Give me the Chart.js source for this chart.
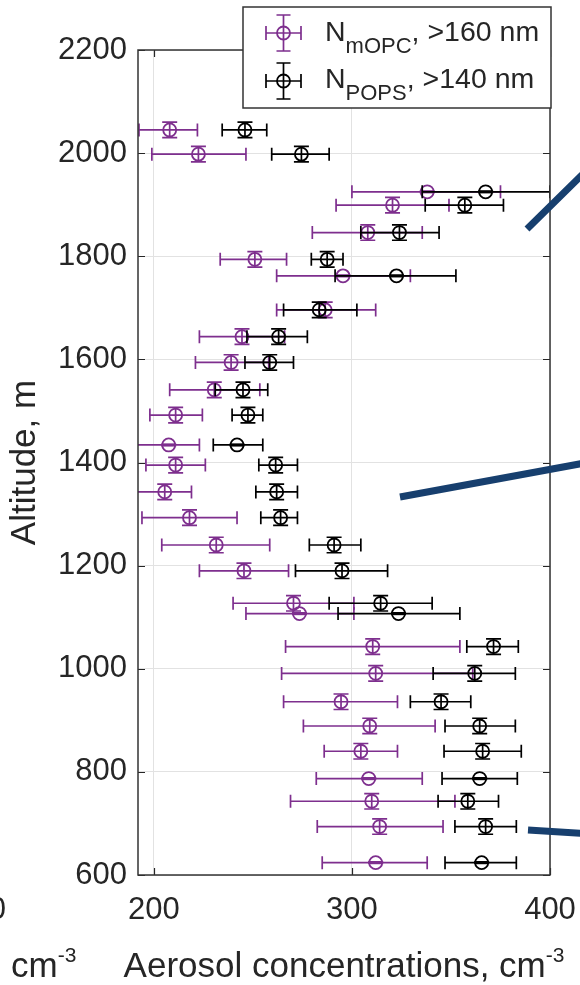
<!DOCTYPE html>
<html>
<head>
<meta charset="utf-8">
<script src="https://cdn.jsdelivr.net/npm/chart.js@4.4.1/dist/chart.umd.min.js"></script>
<style>
html,body{margin:0;padding:0;background:#ffffff;}
#wrap{width:580px;height:985px;position:relative;overflow:hidden;}
canvas{display:block;}
</style>
</head>
<body>
<div id="wrap"><canvas id="c" width="580" height="985"></canvas></div>
<script>
// ---- data ----
const altitudes   = [2045,1998,1925,1899,1846,1794,1762,1696,1644,1594,1541,1492,1434,1395,1343,1293,1240,1190,1127,1107,1043,991,936,889,840,787,743,694,624];
const altitudeErr = [15,15,0,15,15,15,0,15,15,15,15,15,0,15,15,15,15,15,15,0,15,15,15,15,15,0,15,15,0];

const opcValues = [208,222.5,338,320.5,308,251,295.5,286.5,244.5,239,230.5,211,207.5,211,205.5,218,231.5,245.5,270.5,273.5,310.5,312,294.5,309,304.5,308.5,310,314,312];
const opcLow    = [192.5,199,300,292,280,233.5,262,262,223,221,208,198,189,196,191,194,204,223,240,246.5,266.5,264.5,265.5,275.5,286,282,269,282.5,285];
const opcHigh   = [222,246.5,375,349,335.5,267,329.5,312,266,258,253.5,224.5,223,226,219,242,258.5,268,301,301,354.5,361,323,342,323,335.5,352,346,338];

const popsValues = [246,274.5,367.5,357,324,287.5,322.5,283.5,263,258.5,245,247.5,242,261.5,262,264,291,295,314.5,323.5,371.5,362,345,364.5,366,364.5,358.5,367.5,365.5];
const popsLow    = [234.5,259.5,335.5,337,304.5,279.5,291.5,265.5,247,246,231,239.5,230,253,251.5,254,278.5,271.5,288.5,293,358,341,329.5,347,346.5,345.5,343.5,352,347];
const popsHigh   = [257,288.5,400,376.5,344,295.5,352.5,302.5,277.5,270.5,257.5,255,255,272.5,272.5,272.5,304.5,318,340.5,354.5,384,382.5,360,382.5,385.5,383.5,374,383,383];

const xTickValues = [200,300,400];
const yTickValues = [600,800,1000,1200,1400,1600,1800,2000,2200];

const opcName  = {main:'N', sub:'mOPC', rest:', >160 nm'};
const popsName = {main:'N', sub:'POPS', rest:', >140 nm'};
const xTitle = {main:'Aerosol concentrations, cm', sup:'-3'};
const yTitle = 'Altitude, m';
const leftFragments = {tick:'0', unit:'cm', sup:'-3'};

// ---- styling ----
const PURPLE = '#7E2F8E';
const BLACK = '#000000';
const TEXT = '#262626';
const FONT = '"Liberation Sans", Arial, Helvetica, sans-serif';
const f = (s) => s + 'px ' + FONT;

const opcErr = {low: opcLow, high: opcHigh};
const popsErr = {low: popsLow, high: popsHigh};

function toPoints(vals){ return vals.map((v,i)=>({x:v, y:altitudes[i]})); }

function drawErrorGlyph(ctx, cx, cy, xl, xh, yt, yb, color, capH, capW){
  ctx.strokeStyle = color;
  ctx.lineWidth = 1.7;
  ctx.beginPath();
  ctx.moveTo(xl, cy); ctx.lineTo(xh, cy);
  ctx.moveTo(xl, cy-capH); ctx.lineTo(xl, cy+capH);
  ctx.moveTo(xh, cy-capH); ctx.lineTo(xh, cy+capH);
  ctx.stroke();
  if (Math.abs(yb-yt) > 0.5){
    ctx.beginPath();
    ctx.moveTo(cx, yt); ctx.lineTo(cx, yb);
    ctx.moveTo(cx-capW, yt); ctx.lineTo(cx+capW, yt);
    ctx.moveTo(cx-capW, yb); ctx.lineTo(cx+capW, yb);
    ctx.stroke();
  } else {
    ctx.lineWidth = 3.2;
    ctx.beginPath();
    ctx.moveTo(cx-capW, cy); ctx.lineTo(cx+capW, cy);
    ctx.stroke();
  }
}

const errorBarPlugin = {
  id: 'errorBars',
  beforeDatasetDraw(chart, args){
    const ds = chart.data.datasets[args.index];
    const err = ds.errorRef;
    if (!err) return;
    const {ctx, chartArea} = chart;
    const xs = chart.scales.x, ys = chart.scales.y;
    ctx.save();
    ctx.beginPath();
    ctx.rect(chartArea.left, chartArea.top, chartArea.right-chartArea.left, chartArea.bottom-chartArea.top);
    ctx.clip();
    ds.data.forEach((p,i)=>{
      const cx = xs.getPixelForValue(p.x);
      const cy = ys.getPixelForValue(p.y);
      const xl = xs.getPixelForValue(err.low[i]);
      const xh = xs.getPixelForValue(err.high[i]);
      const yt = ys.getPixelForValue(p.y + altitudeErr[i]);
      const yb = ys.getPixelForValue(p.y - altitudeErr[i]);
      drawErrorGlyph(ctx, cx, cy, xl, xh, yt, yb, ds.borderColor, 6.5, 7.5);
    });
    ctx.restore();
  }
};

function drawSubLabel(ctx, x, base, parts, mainSize, subSize, subDrop){
  ctx.fillStyle = TEXT;
  ctx.textAlign = 'left';
  ctx.textBaseline = 'alphabetic';
  ctx.font = f(mainSize);
  ctx.fillText(parts.main, x, base);
  let cx = x + ctx.measureText(parts.main).width;
  ctx.font = f(subSize);
  ctx.fillText(parts.sub, cx, base + subDrop);
  cx += ctx.measureText(parts.sub).width;
  ctx.font = f(mainSize);
  ctx.fillText(parts.rest, cx, base);
}

const decorPlugin = {
  id: 'decor',
  afterDraw(chart){
    const {ctx, chartArea:a} = chart;
    const xs = chart.scales.x, ys = chart.scales.y;
    ctx.save();
    // inward ticks
    ctx.strokeStyle = TEXT;
    ctx.lineWidth = 1.2;
    ctx.beginPath();
    xTickValues.forEach(v=>{
      const px = Math.round(xs.getPixelForValue(v))+0.5;
      ctx.moveTo(px, a.bottom); ctx.lineTo(px, a.bottom-7);
      ctx.moveTo(px, a.top); ctx.lineTo(px, a.top+7);
    });
    yTickValues.forEach(v=>{
      const py = Math.round(ys.getPixelForValue(v))+0.5;
      ctx.moveTo(a.left, py); ctx.lineTo(a.left+7, py);
      ctx.moveTo(a.right, py); ctx.lineTo(a.right-7, py);
    });
    ctx.stroke();
    // frame
    ctx.lineWidth = 1.5;
    ctx.strokeStyle = '#333333';
    ctx.strokeRect(a.left, a.top, a.right-a.left, a.bottom-a.top);

    // x title with superscript, centred under the axes
    ctx.fillStyle = TEXT;
    ctx.textBaseline = 'alphabetic';
    ctx.textAlign = 'left';
    ctx.font = f(35);
    const wMain = ctx.measureText(xTitle.main).width;
    ctx.font = f(21);
    const wSup = ctx.measureText(xTitle.sup).width;
    const cxT = (a.left + a.right)/2;
    let tx = cxT - (wMain + wSup)/2;
    ctx.font = f(35);
    ctx.fillText(xTitle.main, tx, 977);
    ctx.font = f(21);
    ctx.fillText(xTitle.sup, tx + wMain, 962);

    // fragments of the neighbouring panel
    ctx.font = f(31);
    ctx.textAlign = 'right';
    ctx.fillText(leftFragments.tick, 6, 919);
    ctx.textAlign = 'left';
    ctx.font = f(35);
    ctx.fillText(leftFragments.unit, 11, 977);
    const wu = ctx.measureText(leftFragments.unit).width;
    ctx.font = f(21);
    ctx.fillText(leftFragments.sup, 11 + wu, 962);

    // legend
    const L = {x:243, y:7, w:308, h:101};
    ctx.fillStyle = '#ffffff';
    ctx.fillRect(L.x, L.y, L.w, L.h);
    ctx.strokeStyle = '#333333';
    ctx.lineWidth = 1.5;
    ctx.strokeRect(L.x, L.y, L.w, L.h);
    const items = [
      {name: opcName, color: PURPLE, cy: 33, base: 41},
      {name: popsName, color: BLACK, cy: 81, base: 88}
    ];
    items.forEach(it=>{
      const sx = 283.5;
      ctx.strokeStyle = it.color;
      ctx.lineWidth = 1.7;
      ctx.beginPath();
      ctx.moveTo(sx-17.5, it.cy); ctx.lineTo(sx+17.5, it.cy);
      ctx.moveTo(sx-17.5, it.cy-7); ctx.lineTo(sx-17.5, it.cy+7);
      ctx.moveTo(sx+17.5, it.cy-7); ctx.lineTo(sx+17.5, it.cy+7);
      ctx.moveTo(sx, it.cy-18); ctx.lineTo(sx, it.cy+18);
      ctx.moveTo(sx-7, it.cy-18); ctx.lineTo(sx+7, it.cy-18);
      ctx.moveTo(sx-7, it.cy+18); ctx.lineTo(sx+7, it.cy+18);
      ctx.stroke();
      ctx.lineWidth = 1.8;
      ctx.beginPath();
      ctx.arc(sx, it.cy, 6.5, 0, Math.PI*2);
      ctx.stroke();
      drawSubLabel(ctx, 325, it.base, it.name, 28.5, 22, 12);
    });

    // dark blue annotation strokes from the original figure
    ctx.strokeStyle = '#173f6e';
    ctx.lineWidth = 7;
    ctx.lineCap = 'butt';
    ctx.beginPath();
    ctx.moveTo(527, 229); ctx.lineTo(592, 165);
    ctx.moveTo(400, 497); ctx.lineTo(590, 462);
    ctx.moveTo(528, 830); ctx.lineTo(590, 834);
    ctx.stroke();
    ctx.restore();
  }
};

new Chart(document.getElementById('c'), {
  type: 'scatter',
  data: {
    datasets: [
      {
        label: 'N mOPC, >160 nm',
        data: toPoints(opcValues),
        errorRef: opcErr,
        borderColor: PURPLE,
        backgroundColor: 'rgba(0,0,0,0)',
        pointRadius: 6.5,
        pointBorderWidth: 1.8,
        pointStyle: 'circle',
        order: 2
      },
      {
        label: 'N POPS, >140 nm',
        data: toPoints(popsValues),
        errorRef: popsErr,
        borderColor: BLACK,
        backgroundColor: 'rgba(0,0,0,0)',
        pointRadius: 6.5,
        pointBorderWidth: 1.8,
        pointStyle: 'circle',
        order: 1
      }
    ]
  },
  options: {
    responsive: false,
    animation: false,
    devicePixelRatio: 1,
    layout: {padding: {top: 50, right: 30, left: 0, bottom: 0}},
    plugins: {legend: {display: false}, tooltip: {enabled: false}},
    scales: {
      x: {
        type: 'linear',
        position: 'bottom',
        min: 192, max: 400,
        afterBuildTicks: (s)=>{ s.ticks = xTickValues.map(v=>({value:v})); },
        afterFit: (s)=>{ s.height = 110; s.paddingLeft = 0; s.paddingRight = 0; },
        border: {display: false},
        grid: {color: '#e2e2e2', lineWidth: 1, drawTicks: false},
        ticks: {font: {family: FONT, size: 31}, color: TEXT, padding: 17, maxRotation: 0, autoSkip: false,
                callback: (v)=>String(v)},
        title: {display: false}
      },
      y: {
        type: 'linear',
        position: 'left',
        min: 600, max: 2200,
        afterBuildTicks: (s)=>{ s.ticks = yTickValues.map(v=>({value:v})); },
        afterFit: (s)=>{ s.width = 138; s.paddingTop = 0; s.paddingBottom = 0; },
        border: {display: false},
        grid: {color: '#e2e2e2', lineWidth: 1, drawTicks: false},
        ticks: {font: {family: FONT, size: 31}, color: TEXT, padding: 11, autoSkip: false,
                callback: (v)=>String(v)},
        title: {display: true, text: yTitle, color: TEXT, font: {family: FONT, size: 35}, padding: {top: 4, bottom: 0}}
      }
    }
  },
  plugins: [errorBarPlugin, decorPlugin]
});
</script>
</body>
</html>
